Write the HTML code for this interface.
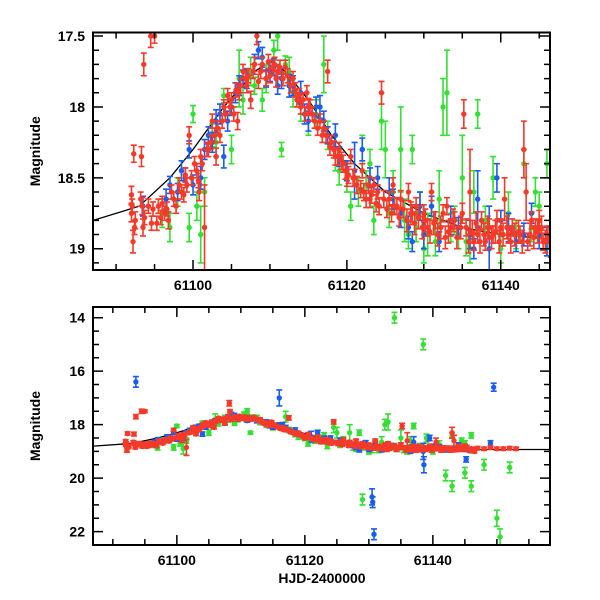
<!DOCTYPE html>
<html><head><meta charset="utf-8"><style>
html,body{margin:0;padding:0;background:#fff;width:600px;height:600px;overflow:hidden}
svg{display:block;font-family:"Liberation Sans",sans-serif}
</style></head><body>
<svg id="chart" width="600" height="600" viewBox="0 0 600 600"></svg>
<script>
const curveT=[61080,61087,61093,61097,61100,61104,61108,61110,61112,61115,61118,61121,61125,61130,61135,61140,61146,61160];
const curveM=[18.9,18.8,18.7,18.5,18.3,18.0,17.75,17.68,17.75,17.95,18.2,18.4,18.6,18.75,18.85,18.9,18.93,18.93];
const redT=[61092.0,61092.0,61092.2,61092.3,61092.5,61093.3,61093.4,61093.5,61093.6,61094.8,61095.0,61095.3,61096.3,61097.5,61098.5,61099.2,61099.5,61100.5,61101.2,61101.5,61102.0,61102.5,61103.5,61104.0,61104.5,61105.3,61106.0,61106.5,61107.0,61108.0,61108.3,61108.8,61109.5,61110.3,61111,61112,61113,61113.5,61114,61114.8,61115.5,61116.5,61117.0,61117.5,61118,61119,61119.5,61120.5,61121,61122,61122.5,61123.5,61124,61124.5,61125.5,61126,61127,61128,61129,61130,61131,61131.5,61132.5,61133.5,61134,61135,61135.5,61136,61137,61137.5,61138,61138.5,61139.5,61140,61140.5,61141.5,61142.5,61143,61143.3,61143.5,61144.5,61145,61145.5,61146,61147,61148,61149,61150,61151,61152,61153,61094.5,61108.2,61135.2,61096.8,61100.8,61103,61105.8,61107.5,61110.8,61115,61118.5,61120,61123,61126.5,61128.5,61130.5,61133,61136.5,61139,61141,61144,61146.5];
const redM=[18.62,18.75,18.95,18.33,18.8,18.35,18.7,18.85,17.7,18.72,17.5,18.82,18.75,18.65,18.6,18.55,18.2,18.45,18.4,18.85,18.3,18.1,18.2,18.0,17.92,18.05,17.9,17.75,17.85,17.7,17.5,17.75,17.8,17.72,17.75,17.72,17.8,17.95,18.0,17.9,18.05,18.1,18.15,17.75,18.25,18.3,18.4,18.35,18.5,18.45,18.65,18.55,18.6,17.9,18.65,18.55,18.65,18.6,18.7,18.75,18.6,18.8,18.75,18.85,18.8,18.75,18.85,18.6,18.9,18.8,18.95,18.85,18.8,18.85,18.65,18.85,18.9,18.3,18.6,18.95,18.85,18.8,18.95,18.9,18.88,18.9,18.85,18.9,18.9,18.88,18.9,17.5,17.2,18.05,18.8,18.6,18.35,18.1,17.95,17.8,18.0,18.35,18.5,18.65,18.7,18.75,18.85,18.7,18.95,18.9,18.9,18.8,19.0];
const redE=[.06,.06,.08,.06,.06,.07,.06,.06,.08,.05,.05,.05,.05,.05,.05,.05,.06,.05,.05,.3,.05,.05,.05,.05,.05,.05,.05,.05,.05,.05,.06,.05,.05,.05,.05,.05,.05,.05,.05,.05,.05,.05,.05,.08,.05,.05,.06,.05,.06,.05,.06,.05,.05,.08,.05,.05,.06,.06,.06,.06,.06,.06,.06,.06,.06,.07,.06,.3,.06,.06,.06,.06,.07,.06,.15,.06,.06,.2,.2,.06,.06,.07,.06,.06,.06,.06,.06,.06,.06,.06,.06,.08,.1,.1,.06,.06,.06,.06,.06,.06,.06,.06,.06,.06,.06,.06,.06,.06,.06,.06,.06,.06,.06];
const redT2=[61092.1,61092.4,61093.2,61093.7,61094.2,61094.6,61095.5,61095.8,61096.0,61096.6,
61097.2,61097.8,61098.2,61098.8,61099.0,61099.8,61100.2,61100.7,61101.0,61101.8,
61102.3,61102.8,61103.2,61103.8,61104.2,61104.8,61105.0,61105.6,61106.2,61106.8,
61107.2,61107.8,61108.5,61109.0,61109.8,61110.0,61110.6,61111.3,61111.7,61112.3,
61112.7,61113.3,61113.8,61114.3,61114.6,61115.2,61115.8,61116.2,61116.8,61117.3,
61117.8,61118.3,61118.8,61119.3,61119.8,61120.2,61120.8,61121.3,61121.8,61122.2,
61122.8,61123.2,61123.8,61124.2,61124.8,61125.2,61125.8,61126.2,61126.8,61127.3,
61127.8,61128.3,61128.8,61129.3,61129.8,61130.2,61130.8,61131.3,61131.8,61132.2,
61132.8,61133.2,61133.8,61134.3,61134.8,61135.8,61136.3,61136.8,61137.3,61137.8,
61138.3,61138.8,61139.3,61139.8,61140.3,61140.8,61141.3,61141.8,61142.3,61142.8,
61143.8,61144.3,61144.8,61145.3,61145.8,61146.3];
const redM2=[18.7,18.85,18.65,18.78,18.7,18.82,18.7,18.78,18.68,18.72,
18.6,18.7,18.55,18.62,18.48,18.5,18.4,18.52,18.35,18.3,
18.25,18.2,18.15,18.1,18.05,18.0,17.95,17.88,17.85,17.8,
17.78,17.75,17.82,17.7,17.68,17.78,17.7,17.72,17.8,17.78,
17.85,17.88,17.92,17.95,18.05,18.0,18.1,18.15,18.2,18.2,
18.28,18.3,18.35,18.38,18.45,18.48,18.5,18.55,18.58,18.6,
18.55,18.62,18.68,18.7,18.65,18.72,18.75,18.7,18.78,18.72,
18.8,18.75,18.82,18.78,18.85,18.8,18.88,18.82,18.9,18.85,
18.92,18.88,18.8,18.92,18.85,18.95,18.88,18.82,18.95,18.9,
18.85,18.92,18.88,18.95,18.9,18.85,18.95,18.9,18.88,18.95,
18.9,18.92,18.88,18.85,18.95,18.92];
const redE2=[.05,.05,.05,.05,.05,.05,.05,.05,.05,.05,
.05,.05,.05,.05,.05,.05,.05,.05,.05,.05,
.05,.05,.05,.05,.05,.05,.05,.05,.05,.05,
.05,.05,.05,.05,.05,.05,.05,.05,.05,.05,
.05,.05,.05,.05,.05,.05,.05,.05,.05,.05,
.06,.06,.06,.06,.06,.06,.06,.06,.06,.06,
.06,.06,.06,.06,.06,.06,.06,.06,.06,.06,
.08,.08,.08,.08,.08,.08,.08,.08,.08,.08,
.08,.08,.08,.08,.08,.08,.08,.08,.08,.08,
.08,.08,.08,.08,.08,.08,.08,.08,.08,.08,
.08,.08,.08,.08,.08,.08];
const blueT=[61093.5,61097,61098,61099,61099.5,61101,61102,61103,61104,61105,61106.5,61107.5,61108.5,61109.5,61110.5,61111,61112.5,61114,61115,61116.5,61117.5,61118.5,61121,61122,61124,61125.5,61127,61128,61129.5,61130,61130.5,61130.6,61130.8,61133.5,61136,61137,61138.5,61138.6,61139.5,61141,61143,61145,61146,61149,61149.5,61093.6,61116,61145.2];
const blueM=[18.7,18.55,18.6,18.5,18.3,18.5,18.2,18.1,18.35,18.0,17.8,17.95,17.6,17.8,17.72,17.85,17.85,17.9,18.1,18.0,18.2,18.2,18.45,18.3,18.5,18.6,18.75,18.85,18.7,18.9,20.7,20.9,22.1,18.8,18.9,18.65,19.0,19.5,18.5,18.85,18.9,18.9,18.95,18.7,16.6,16.4,17.0,19.3];
const blueE=[.07,.06,.06,.07,.06,.08,.06,.08,.08,.06,.06,.06,.06,.06,.06,.06,.08,.08,.07,.08,.06,.08,.2,.08,.08,.1,.1,.08,.1,.1,.3,.2,.2,.1,.1,.2,.3,.3,.1,.1,.08,.1,.1,.1,.15,.2,.3,.1];
const blueT2=[61096.5,61098.5,61100,61101.5,61102.5,61103.5,61104.5,61105.5,61106,61107,61108,61109,61110,61111.5,61113,61114.5,61116,61117,61119,61120,61123,61126,61128.5,61131,61132,61134.5,61136.5,61140,61142,61144];
const blueM2=[18.65,18.45,18.55,18.3,18.25,18.05,18.1,17.9,17.85,17.8,17.7,17.65,17.75,17.8,17.85,18.05,18.0,18.1,18.35,18.45,18.5,18.65,18.95,18.7,18.95,18.85,19.0,18.8,18.95,18.75];
const blueE2=[.07,.07,.07,.07,.07,.07,.07,.07,.07,.07,.07,.07,.07,.07,.07,.07,.07,.07,.07,.07,.07,.07,.07,.07,.07,.07,.07,.07,.07,.07];
const greenT=[61097,61098,61099.5,61100,61100.5,61101,61102.5,61104,61105,61108,61109,61110.5,61111,61112,61111.5,61113,61114,61116,61117.5,61118.5,61120,61121.5,61122,61123,61124.5,61126,61127,61127.5,61128.5,61129.5,61130.5,61131,61132,61133,61134,61135,61135.5,61136.5,61137,61139,61141,61143,61144.5,61145,61146,61129,61134,61138.5,61142,61143,61145,61146,61148,61150,61150.5,61152,61106,61117,61125,61132.5];
const greenM=[18.85,18.6,18.85,18.05,18.7,18.9,18.2,17.92,18.3,17.85,17.95,17.6,17.5,17.7,18.3,17.9,18.0,18.05,18.2,18.35,18.5,18.6,18.3,18.4,18.1,18.6,18.3,18.8,18.3,18.7,18.9,18.7,18.65,17.9,18.8,18.5,18.95,18.6,18.05,18.5,18.75,18.4,18.6,18.7,18.4,20.8,14.0,15.0,19.9,20.3,19.8,20.3,19.5,21.5,22.2,19.6,17.8,17.7,18.3,18.0];
const greenE=[.1,.1,.1,.06,.1,.2,.08,.05,.1,.06,.08,.07,.1,.06,.05,.1,.1,.1,.1,.1,.1,.1,.1,.1,.2,.15,.3,.15,.1,.1,.15,.1,.2,.3,.1,.3,.1,.15,.1,.15,.15,.1,.1,.1,.1,.2,.2,.2,.2,.2,.2,.2,.2,.3,.3,.2,.2,.2,.2,.2];
const greenT2=[61096,61101.5,61103,61106.5,61107.5,61109.5,61112.5,61115,61119,61120.5,61122.5,61123.5,61125.5,61128,61129,61130,61131.5,61133.5,61134.5,61136,61138,61140,61142,61144,61146];
const greenM2=[18.75,18.6,18.25,17.95,17.75,17.8,17.75,18.1,18.45,18.7,18.55,18.8,18.75,18.9,18.85,19.0,18.95,18.85,18.9,19.0,18.8,19.0,18.9,18.85,18.95];
const greenE2=[.1,.1,.1,.1,.1,.1,.1,.1,.1,.1,.1,.1,.1,.1,.1,.1,.1,.1,.1,.1,.1,.1,.1,.1,.1];
const topXTicks=[61100,61120,61140];
const topYTicks=[17.5,18,18.5,19];
const botXTicks=[61100,61120,61140];
const botYTicks=[14,16,18,20,22];

const NS='http://www.w3.org/2000/svg';
const svg=document.getElementById('chart');
function mk(tag,attrs,parent){const e=document.createElementNS(NS,tag);for(const k in attrs)e.setAttribute(k,attrs[k]);(parent||svg).appendChild(e);return e;}
const defs=mk('defs',{});
function panel(id,L,R,T,B,x0,x1,y0,y1,xMinor,yMinor,yMajor,xt,yt){
  const sx=v=>L+(v-x0)/(x1-x0)*(R-L);
  const sy=v=>T+(v-y0)/(y1-y0)*(B-T);
  const cp=mk('clipPath',{id:'clip'+id},defs);mk('rect',{x:L,y:T,width:R-L,height:B-T},cp);
  const g=mk('g',{'clip-path':'url(#clip'+id+')'});
  
  
  let d='';curveT.forEach((t,i)=>{d+=(i?'L':'M')+sx(t).toFixed(1)+' '+sy(curveM[i]).toFixed(1);});
  const c=mk('path',{d:d,fill:'none',stroke:'#000','stroke-width':1.3},g);
  
  
  function series(name,T_,M_,E_,col){
    const sg=mk('g',{fill:col,stroke:col},g);
    
    
    T_.forEach((t,i)=>{
      const x=sx(t),y=sy(M_[i]),ya=sy(M_[i]-E_[i]),yb=sy(M_[i]+E_[i]);
      mk('path',{d:`M${x} ${ya}V${yb}M${x-3} ${ya}h6M${x-3} ${yb}h6`,'stroke-width':1.6,fill:'none'},sg);
      const p=mk('circle',{cx:x,cy:y,r:2.7,stroke:'none'},sg);
      
      
    });
  }
  series('green',greenT.concat(greenT2),greenM.concat(greenM2),greenE.concat(greenE2),'#33e033');
  series('blue',blueT.concat(blueT2),blueM.concat(blueM2),blueE.concat(blueE2),'#1a5ef0');
  series('red',redT.concat(redT2),redM.concat(redM2),redE.concat(redE2),'#f53a2a');
  const ax=mk('g',{stroke:'#000','stroke-width':1.5,fill:'none'});
  
  
  mk('rect',{x:L,y:T,width:R-L,height:B-T,'stroke-width':2},ax);
  let td='';
  for(let v=Math.ceil(x0/xMinor)*xMinor;v<=x1;v+=xMinor){const x=sx(v),len=(v%20===0)?10:6;td+=`M${x} ${B}v${-len}M${x} ${T}v${len}`;}
  for(let k=Math.ceil(y0/yMinor);k*yMinor<=y1+1e-9;k++){const v=k*yMinor,y=sy(v);const maj=Math.abs(v/yMajor-Math.round(v/yMajor))<1e-6;const len=maj?10:6;td+=`M${L} ${y}h${len}M${R} ${y}h${-len}`;}
  mk('path',{d:td},ax);
  xt.forEach(v=>{const t=mk('text',{x:sx(v),y:B+20,'text-anchor':'middle','font-size':14,'font-weight':'bold',fill:'#000'});t.textContent=String(v);
    });
  yt.forEach(v=>{const t=mk('text',{x:L-8,y:sy(v)+5,'text-anchor':'end','font-size':14,'font-weight':'bold',fill:'#000'});t.textContent=String(v);
    });
  const yl=mk('text',{x:0,y:0,transform:`translate(40 ${(T+B)/2}) rotate(-90)`,'text-anchor':'middle','font-size':14,'font-weight':'bold',fill:'#000'});
  yl.textContent='Magnitude';
  
}
panel('top',93,550,32.5,270,61087.0,61146.4,17.475,19.15,5,0.1,0.5,topXTicks,topYTicks);
panel('bottom',93,550,307,545,61086.9,61158.3,13.6,22.5,5,0.5,2,botXTicks,botYTicks);
const xl=mk('text',{x:322,y:583,'text-anchor':'middle','font-size':14,'font-weight':'bold',fill:'#000'});
xl.textContent='HJD-2400000';


</script>
</body></html>
